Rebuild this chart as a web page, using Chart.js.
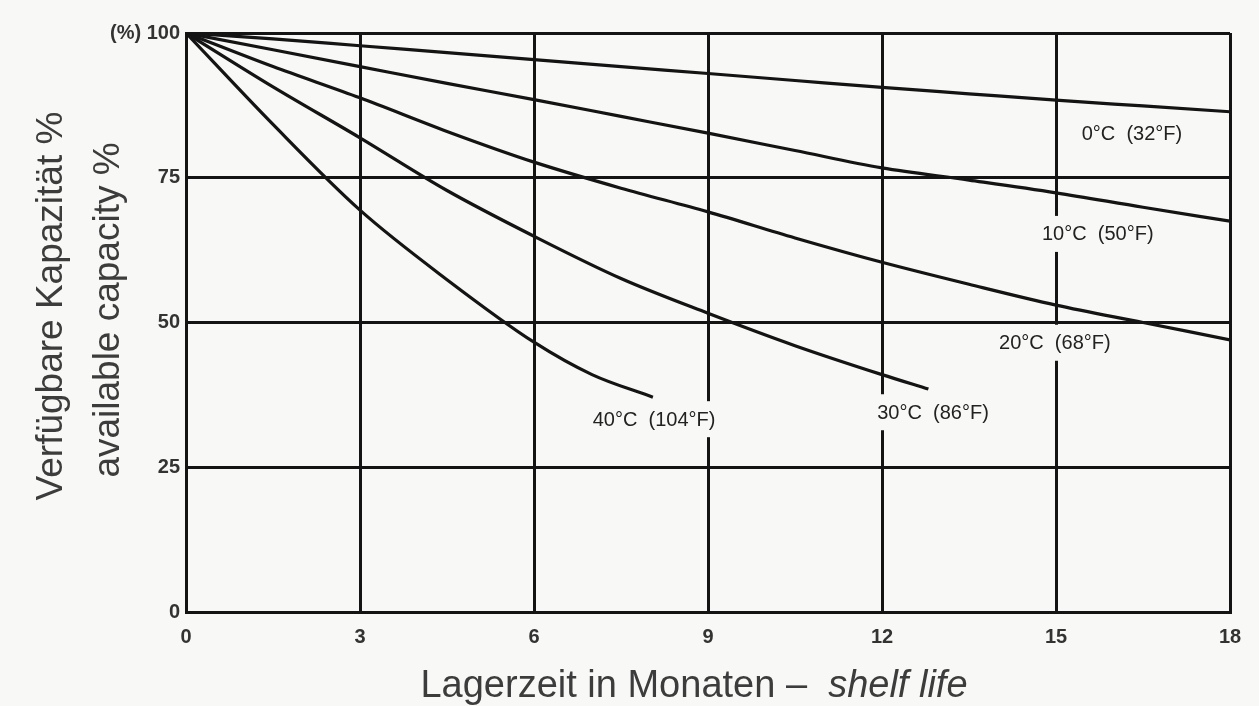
<!DOCTYPE html>
<html>
<head>
<meta charset="utf-8">
<script src="https://cdn.jsdelivr.net/npm/chart.js@4.4.1/dist/chart.umd.min.js"></script>
<style>
  html, body { margin: 0; padding: 0; background: #f8f8f6; }
  #wrap { width: 1259px; height: 706px; }
</style>
</head>
<body>
<div id="wrap"><canvas id="c" width="1259" height="706"></canvas></div>
<script>
// Storage time in months and remaining capacity (%) for each temperature
const months0  = [0, 1.5, 3, 4.5, 6, 7.5, 9, 10.5, 12, 13.5, 15, 16.5, 18];
const cap0C    = [100, 99.0, 97.8, 96.6, 95.4, 94.2, 93.0, 91.8, 90.6, 89.5, 88.4, 87.4, 86.4];

const months10 = [0, 1.5, 3, 4.5, 6, 7.5, 9, 10.5, 12, 13.5, 15, 16.5, 18];
const cap10C   = [100, 97.1, 94.2, 91.3, 88.5, 85.6, 82.7, 79.7, 76.7, 74.6, 72.4, 69.9, 67.5];

const months20 = [0, 1.5, 3, 4.5, 6, 7.5, 9, 10.5, 12, 13.5, 15, 16.5, 18];
const cap20C   = [100, 94.2, 88.8, 83.0, 77.7, 73.2, 69.1, 64.6, 60.4, 56.6, 53.0, 50.0, 47.0];

const months30 = [0, 1.5, 3, 4.5, 6, 7.5, 9, 10.5, 12, 12.8];
const cap30C   = [100, 90.7, 81.9, 72.8, 64.9, 57.6, 51.6, 46.0, 41.0, 38.5];

const months40 = [0, 1.5, 3, 4.5, 6, 7, 8.05];
const cap40C   = [100, 84.2, 69.4, 57.4, 46.6, 41.0, 37.1];

const seriesNames = ['0°C  (32°F)', '10°C  (50°F)', '20°C  (68°F)', '30°C  (86°F)', '40°C  (104°F)'];

const xTicks = [0, 3, 6, 9, 12, 15, 18];
const yTicks = [0, 25, 50, 75, 100];
const yTickLabels = ['0', '25', '50', '75', '(%) 100'];

const xTitleMain = 'Lagerzeit in Monaten –  ';
const xTitleItalic = 'shelf life';
const yTitleLine1 = 'Verfügbare Kapazität %';
const yTitleLine2 = 'available capacity %';

function pairs(xs, ys) { return xs.map((x, i) => ({ x: x, y: ys[i] })); }

const ink = '#141414';
const paper = '#f8f8f6';
const tickFont = { family: "'Liberation Sans', Arial, sans-serif", size: 20, weight: 'bold' };

// Curve labels anchored in data space (month, capacity)
const curveLabels = [
  { text: seriesNames[0], x: 16.31, y: 82.7 },
  { text: seriesNames[1], x: 15.72, y: 65.3 },
  { text: seriesNames[2], x: 14.98, y: 46.5 },
  { text: seriesNames[3], x: 12.88, y: 34.5 },
  { text: seriesNames[4], x: 8.07,  y: 33.3 }
];

const labelPlugin = {
  id: 'curveLabels',
  afterDatasetsDraw(chart) {
    const { ctx, scales } = chart;
    ctx.save();
    ctx.font = "20px 'Liberation Sans', Arial, sans-serif";
    ctx.textAlign = 'center';
    ctx.textBaseline = 'middle';
    curveLabels.forEach(l => {
      const px = scales.x.getPixelForValue(l.x);
      const py = scales.y.getPixelForValue(l.y);
      const w = ctx.measureText(l.text).width;
      ctx.fillStyle = paper;
      ctx.fillRect(px - w / 2 - 5, py - 18, w + 10, 36);
      ctx.fillStyle = '#222';
      ctx.fillText(l.text, px, py + 1);
    });
    ctx.restore();
  }
};

const titlePlugin = {
  id: 'axisTitles',
  afterDraw(chart) {
    const { ctx } = chart;
    ctx.save();
    ctx.fillStyle = '#3c3c3c';
    // y axis titles, rotated
    ctx.font = "37px 'Liberation Sans', Arial, sans-serif";
    ctx.textAlign = 'center';
    ctx.textBaseline = 'alphabetic';
    ctx.save();
    ctx.translate(62, 306);
    ctx.rotate(-Math.PI / 2);
    ctx.fillText(yTitleLine1, 0, 0);
    ctx.restore();
    ctx.save();
    ctx.translate(119, 310);
    ctx.rotate(-Math.PI / 2);
    ctx.fillText(yTitleLine2, 0, 0);
    ctx.restore();
    // x axis title with italic tail
    ctx.textAlign = 'left';
    const fMain = "38px 'Liberation Sans', Arial, sans-serif";
    const fIt = "italic 38px 'Liberation Sans', Arial, sans-serif";
    ctx.font = fMain;
    const w1 = ctx.measureText(xTitleMain).width;
    ctx.font = fIt;
    const w2 = ctx.measureText(xTitleItalic).width;
    const startX = 694 - (w1 + w2) / 2;
    ctx.font = fMain;
    ctx.fillText(xTitleMain, startX, 697);
    ctx.font = fIt;
    ctx.fillText(xTitleItalic, startX + w1, 697);
    ctx.restore();
  }
};

const bgPlugin = {
  id: 'bg',
  beforeDraw(chart) {
    const { ctx } = chart;
    ctx.save();
    ctx.fillStyle = paper;
    ctx.fillRect(0, 0, chart.width, chart.height);
    ctx.restore();
  }
};

const series = [
  pairs(months0, cap0C),
  pairs(months10, cap10C),
  pairs(months20, cap20C),
  pairs(months30, cap30C),
  pairs(months40, cap40C)
];

new Chart(document.getElementById('c'), {
  type: 'line',
  data: {
    datasets: series.map((d, i) => ({
      label: seriesNames[i],
      data: d,
      borderColor: ink,
      borderWidth: 3.2,
      pointRadius: 0,
      fill: false,
      cubicInterpolationMode: 'monotone'
    }))
  },
  options: {
    responsive: false,
    animation: false,
    layout: { padding: { top: 33, right: 29, left: 0, bottom: 0 } },
    plugins: { legend: { display: false }, tooltip: { enabled: false } },
    scales: {
      x: {
        type: 'linear',
        min: 0, max: 18,
        afterBuildTicks(scale) { scale.ticks = xTicks.map(v => ({ value: v })); },
        afterFit(scale) { scale.height = 94; },
        grid: { color: ink, lineWidth: 3, drawTicks: false },
        border: { color: ink, width: 3 },
        ticks: { color: '#333', font: tickFont, padding: 13, maxRotation: 0,
                 callback: v => String(v) }
      },
      y: {
        min: 0, max: 100,
        afterBuildTicks(scale) { scale.ticks = yTicks.map(v => ({ value: v })); },
        afterFit(scale) { scale.width = 186; },
        grid: { color: ink, lineWidth: 3, drawTicks: false },
        border: { color: ink, width: 3 },
        ticks: { color: '#333', font: tickFont, padding: 6,
                 callback: v => yTickLabels[yTicks.indexOf(v)] }
      }
    }
  },
  plugins: [bgPlugin, labelPlugin, titlePlugin]
});
</script>
</body>
</html>
